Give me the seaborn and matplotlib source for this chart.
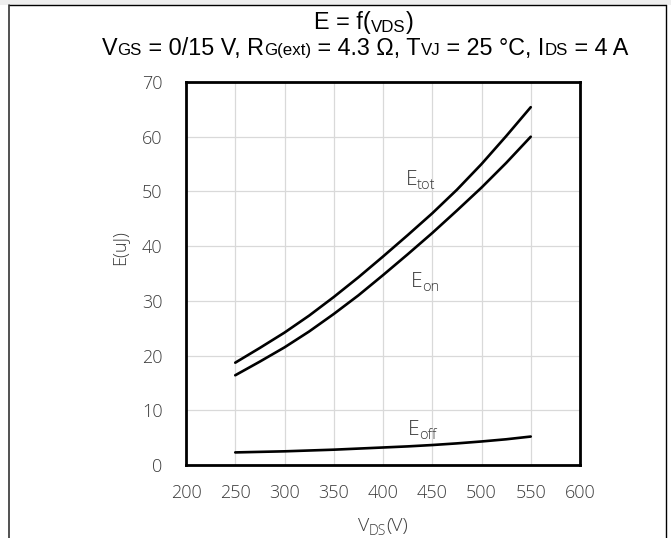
import pandas as pd
import matplotlib.pyplot as plt
import seaborn as sns
from matplotlib.lines import Line2D
from matplotlib.patches import Rectangle
from matplotlib.transforms import offset_copy

# values
vds = [250, 275, 300, 325, 350, 375, 400, 425, 450, 475, 500, 525, 550]
e_tot = [18.7, 21.4, 24.2, 27.3, 30.7, 34.3, 38.1, 42.0, 46.0, 50.3, 55.0, 60.1, 65.4]
e_on = [16.4, 18.9, 21.5, 24.4, 27.6, 31.0, 34.7, 38.5, 42.4, 46.5, 50.7, 55.2, 60.0]
e_off = [2.3, 2.4, 2.5, 2.65, 2.8, 3.0, 3.2, 3.4, 3.65, 3.95, 4.3, 4.7, 5.2]
x_ticks = [200, 250, 300, 350, 400, 450, 500, 550, 600]
y_ticks = [0, 10, 20, 30, 40, 50, 60, 70]

W, H = 671, 538
GREY = "#3c3c3c"
LIGHT = "Open Sans"
TITLE = "Liberation Sans"

sns.set_theme(style="whitegrid")
plt.rcParams["font.family"] = [LIGHT, "DejaVu Sans"]


def px(x, y):
    # pixel position (from top-left) -> figure fraction
    return x / W, 1 - y / H


def rich_text(fig, x, y, pieces, base, family, color, ha="center", weight="normal"):
    # pieces: (text, size, dy in points); draws them side by side on one baseline
    renderer = fig.canvas.get_renderer()

    def width(s, size):
        t = fig.text(0, 0, "|" + s + "|", fontsize=size, family=family, weight=weight)
        w = t.get_window_extent(renderer).width
        t.remove()
        t = fig.text(0, 0, "||", fontsize=size, family=family, weight=weight)
        w -= t.get_window_extent(renderer).width
        t.remove()
        return w * 72 / fig.dpi

    widths = [width(s, size) for s, size, _ in pieces]
    start = -sum(widths) / 2 if ha == "center" else 0
    for (s, size, dy), w in zip(pieces, widths):
        tr = offset_copy(base, fig=fig, x=start, y=dy, units="points")
        fig.text(x, y, s, transform=tr, fontsize=size, family=family, weight=weight,
                 color=color, ha="left", va="baseline")
        start += w


df = pd.DataFrame({
    "VDS": vds * 3,
    "E": e_tot + e_on + e_off,
    "curve": ["Etot"] * len(vds) + ["Eon"] * len(vds) + ["Eoff"] * len(vds),
})

fig = plt.figure(figsize=(W / 100, H / 100), dpi=100)
fig.patch.set_facecolor("white")
ax = fig.add_axes([186 / W, 1 - 465 / H, 394 / W, 383 / H])

sns.lineplot(data=df, x="VDS", y="E", hue="curve", palette=["black"] * 3,
             linewidth=1.9, legend=False, ax=ax)

ax.set_xlim(200, 600)
ax.set_ylim(0, 70)
ax.set_xticks(x_ticks)
ax.set_yticks(y_ticks)
ax.set_facecolor("white")
ax.grid(True, color="#d9d9d9", linewidth=0.9)
for sp in ax.spines.values():
    sp.set_visible(True)
    sp.set_color("black")
    sp.set_linewidth(2)
ax.tick_params(axis="x", length=0, pad=14, labelsize=13, labelcolor=GREY)
ax.tick_params(axis="y", length=0, pad=17, labelsize=13, labelcolor=GREY)
for lab in ax.get_xticklabels() + ax.get_yticklabels():
    lab.set_fontweight("light")

ax.set_xlabel("")
ax.set_ylabel("E(uJ)", fontsize=13, color=GREY, fontweight="light")
ax.yaxis.set_label_coords(-0.147, 0.567)

# curve labels
for (lx, ly, sub) in [(423, 51.2, "tot"), (428, 32.6, "on"), (425, 5.5, "off")]:
    rich_text(fig, lx, ly, [("E", 15, 0), (sub, 10.5, -3)], ax.transData,
              LIGHT, GREY, ha="left", weight="light")

# x label
rich_text(fig, *px(383, 531), [("V", 14, 0), ("DS", 10, -3), ("(V)", 14, 0)],
          fig.transFigure, LIGHT, GREY, weight="light")

# title lines
rich_text(fig, *px(364, 29), [("E = f(", 16.8, 0), ("VDS", 12.2, -2), (")", 16.8, 0)],
          fig.transFigure, TITLE, "black")
rich_text(fig, *px(365, 55),
          [("V", 16.8, 0), ("GS", 12.2, 0), (" = 0/15 V, R", 16.8, 0), ("G(ext)", 12.2, 0),
           (" = 4.3 Ω, T", 16.8, 0), ("VJ", 12.2, 0), (" = 25 °C, I", 16.8, 0),
           ("DS", 12.2, 0), (" = 4 A", 16.8, 0)],
          fig.transFigure, TITLE, "black")

# cell border around the figure
fig.add_artist(Rectangle((0, 1 - 4.5 / H), 1, 4.5 / H, transform=fig.transFigure,
                         facecolor="#eeeeee", edgecolor="none"))
fig.add_artist(Line2D([8.5 / W, 665.5 / W], [1 - 5 / H, 1 - 5 / H],
                      transform=fig.transFigure, color="black", linewidth=1))
fig.add_artist(Line2D([8.5 / W, 8.5 / W], [0, 1 - 4.5 / H],
                      transform=fig.transFigure, color="#333333", linewidth=1.2))
fig.add_artist(Line2D([665.5 / W, 665.5 / W], [0, 1 - 4.5 / H],
                      transform=fig.transFigure, color="black", linewidth=1))

fig.savefig("out.png", dpi=100)
